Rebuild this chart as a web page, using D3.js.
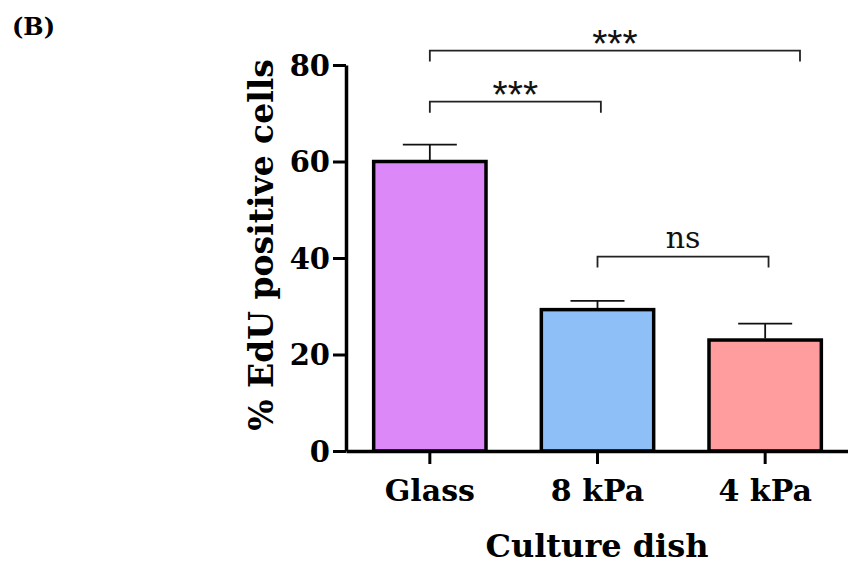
<!DOCTYPE html>
<meta charset="utf-8">
<title>EdU positive cells</title>
<style>
    body { margin: 0; background: #fff; }
    svg { display: block; }
    .tick text, .lbl { font-family: 'DejaVu Serif', serif; font-weight: bold; }
    .star { font-family: 'Liberation Sans', Arial, sans-serif; }
    .brk { fill: none; stroke: #222; stroke-width: 1.8px; }
</style>
<body>
<svg width="848" height="567"></svg>
<script src="https://cdn.jsdelivr.net/npm/d3@7"></script>
<script>

// data
var dishes = ["Glass", "8 kPa", "4 kPa"];
var edu = [60.0, 29.3, 23.0];
var errs = [3.5, 1.8, 3.4];
var colors = ["#dd88f8", "#8fbff7", "#ff9d9e"];
var yTicks = [0, 20, 40, 60, 80];

// significance brackets: from, to, height (in %), label, extra shift of right end (fraction of band)
var brFrom = ["Glass", "Glass", "8 kPa"];
var brTo = ["4 kPa", "8 kPa", "4 kPa"];
var brY = [83.0, 72.4, 40.3];
var brText = ["***", "***", "ns"];
var brShift = [0.31, 0.03, 0.03];

var svg = d3.select("svg");

var x = d3.scaleBand()
    .domain(dishes)
    .range([346, 849])
    .paddingInner(0.33)
    .paddingOuter(0.165);

var y = d3.scaleLinear()
    .domain([0, 80])
    .range([451, 65]);

var cx = function(d) { return x(d) + x.bandwidth() / 2; };

// bars
svg.append("g").selectAll("rect")
    .data(dishes)
    .enter().append("rect")
    .attr("x", function(d) { return x(d); })
    .attr("width", x.bandwidth())
    .attr("y", function(d, i) { return y(edu[i]); })
    .attr("height", function(d, i) { return y(0) - y(edu[i]); })
    .attr("fill", function(d, i) { return colors[i]; })
    .attr("stroke", "#000")
    .attr("stroke-width", 3.5);

// error bars (upper only)
var eb = svg.append("g").attr("stroke", "#111").attr("stroke-width", 1.8);
dishes.forEach(function(d, i) {
    eb.append("line")
        .attr("x1", cx(d)).attr("x2", cx(d))
        .attr("y1", y(edu[i]) - 1.5).attr("y2", y(edu[i] + errs[i]));
    eb.append("line")
        .attr("x1", cx(d) - 27).attr("x2", cx(d) + 27)
        .attr("y1", y(edu[i] + errs[i])).attr("y2", y(edu[i] + errs[i]));
});

// axes
var yAxis = svg.append("g")
    .attr("transform", "translate(346,0)")
    .call(d3.axisLeft(y).tickValues(yTicks).tickSize(13).tickPadding(3).tickSizeOuter(0));

var xAxis = svg.append("g")
    .attr("transform", "translate(0,451)")
    .call(d3.axisBottom(x).tickSize(13).tickPadding(16).tickSizeOuter(0));

[yAxis, xAxis].forEach(function(a) {
    a.select(".domain").attr("stroke", "#000").attr("stroke-width", 3.5);
    a.selectAll(".tick line").attr("stroke", "#000").attr("stroke-width", 3);
});
yAxis.selectAll(".tick text").attr("font-size", 29).attr("fill", "#000").attr("dy", "0.36em");
xAxis.selectAll(".tick text").attr("font-size", 30).attr("fill", "#000");

// brackets
brFrom.forEach(function(f, i) {
    var x1 = cx(f), x2 = cx(brTo[i]) + brShift[i] * x.bandwidth(), yy = y(brY[i]);
    svg.append("path")
        .attr("class", "brk")
        .attr("d", "M" + x1 + "," + (yy + 11) + "V" + yy + "H" + x2 + "V" + (yy + 11));
    var t = svg.append("text")
        .attr("x", (x1 + x2) / 2)
        .attr("text-anchor", "middle")
        .attr("fill", "#111")
        .text(brText[i]);
    if (brText[i] === "ns") {
        t.attr("y", yy - 9).attr("font-family", "'DejaVu Serif', serif").attr("font-size", 30);
    } else {
        t.attr("class", "star").attr("y", yy + 6).attr("font-size", 39);
    }
});

// titles
svg.append("text")
    .attr("class", "lbl")
    .attr("x", 597).attr("y", 557)
    .attr("text-anchor", "middle")
    .attr("font-size", 32)
    .text("Culture dish");

svg.append("text")
    .attr("class", "lbl")
    .attr("transform", "translate(273,245) rotate(-90)")
    .attr("text-anchor", "middle")
    .attr("font-size", 33)
    .text("% EdU positive cells");

svg.append("text")
    .attr("class", "lbl")
    .attr("x", 12).attr("y", 35)
    .attr("font-size", 24)
    .text("(B)");

</script>
</body>
